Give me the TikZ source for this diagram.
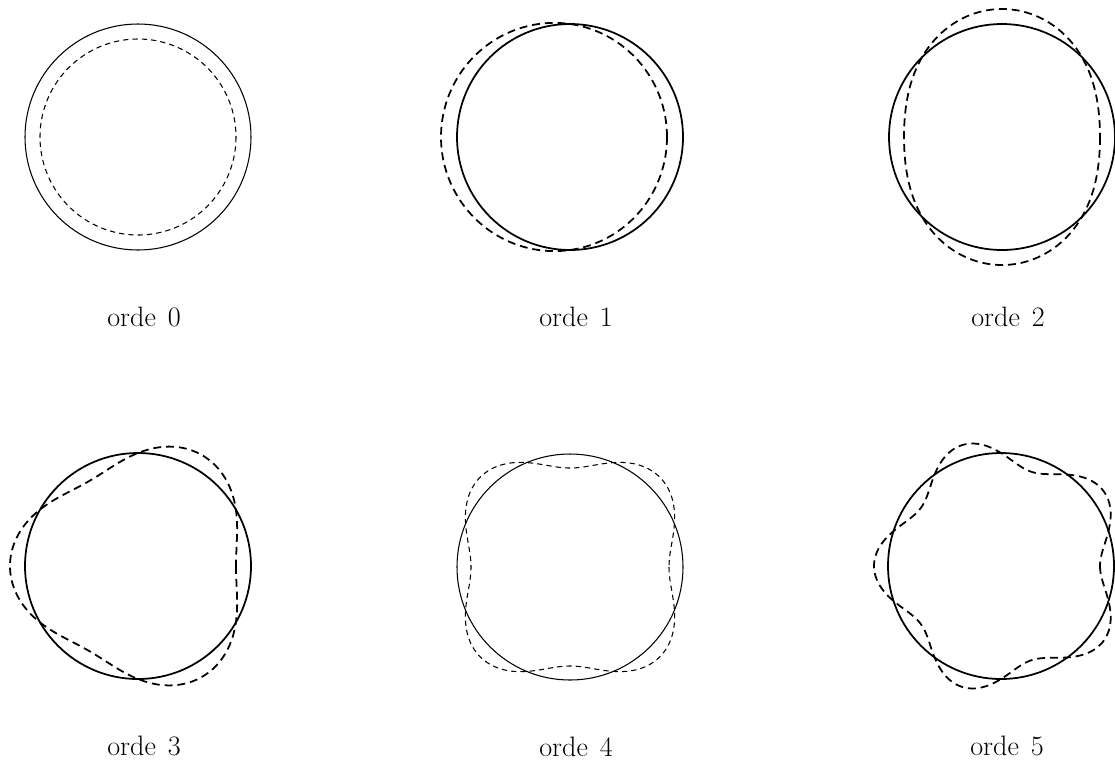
\documentclass[tikz,border=0pt]{standalone}
\usetikzlibrary{positioning}

\begin{document}
\begin{tikzpicture}[x=0.02cm, y=-0.02cm,
    fine/.style={line width=0.6pt},
    bold/.style={line width=1pt},
    finedash/.style={fine, dash pattern=on 3pt off 2.3pt},
    bolddash/.style={bold, dash pattern=on 4.5pt off 2.8pt},
    lbl/.style={anchor=base, font=\fontsize{16}{19}\selectfont}]
    \useasboundingbox (0,0) rectangle (1115,765);

    % mode n: r = R - a cos(n t)
    \foreach \n/\cx/\cy/\a/\w in {0/138/137/15/fine, 1/570/137/16/bold,
        2/1002/137/15/bold, 3/138/566/15/bold, 4/570/567/14/fine,
        5/1001/566/14/bold} {
      \draw[\w] (\cx,\cy) circle[radius=113];
      \draw[\w dash, shift={(\cx,\cy)}]
        plot[variable=\t, domain=0:359, samples=360] (\t:{113-\a*cos(\n*\t)}) -- cycle;
      \node[lbl] (orde\n) at (\cx+6,\cy+189) {orde\hspace{0.42em}\n};
    }
  \end{tikzpicture}
\end{document}
